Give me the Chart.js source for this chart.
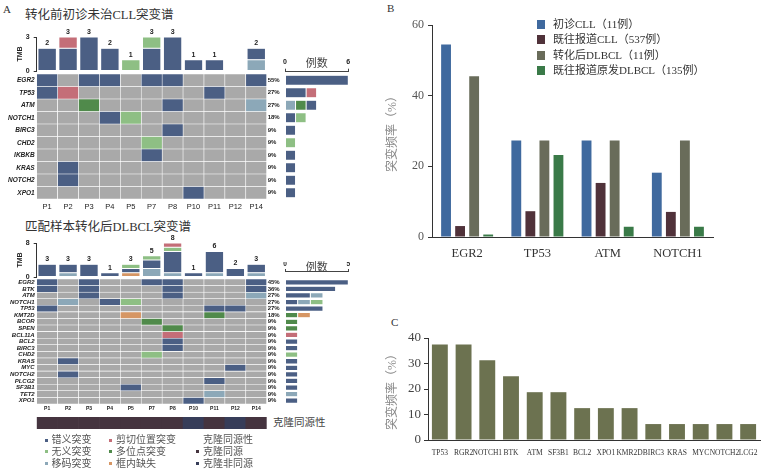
<!DOCTYPE html>
<html>
<head>
<meta charset="utf-8">
<script src="https://cdn.jsdelivr.net/npm/chart.js"></script>
<style>
body { margin: 0; background: #fff; }
#page { position: relative; width: 769px; height: 475px; overflow: hidden; font-family: "Liberation Serif", "Noto Sans CJK SC", serif; color: #333; }
canvas { position: absolute; }
.txt { position: absolute; white-space: nowrap; line-height: 1; }
.sq { position: absolute; }
</style>
</head>
<body>
<div id="page">
  <div class="txt" style="left:3px;top:4px;font-size:11px;">A</div>
  <div class="txt" style="left:25px;top:9px;font-size:12.5px;">转化前初诊未治CLL突变谱</div>
  <div class="txt" style="left:25px;top:221px;font-size:12.5px;">匹配样本转化后DLBCL突变谱</div>
  <div class="txt" style="left:273px;top:418px;font-size:10.5px;color:#444;">克隆同源性</div>
  <div class="txt" style="left:387px;top:3px;font-size:11px;">B</div>
  <div class="txt" style="left:391px;top:317px;font-size:11px;">C</div>

  <canvas id="tmbCll" width="268" height="50" style="left:0;top:26px"></canvas>
  <canvas id="heatCll" width="286" height="141" style="left:0;top:74px"></canvas>
  <canvas id="countCll" width="74" height="149" style="left:280px;top:50px"></canvas>

  <canvas id="tmbDlb" width="268" height="50" style="left:0;top:232px"></canvas>
  <canvas id="heatDlb" width="286" height="134" style="left:0;top:279px"></canvas>
  <canvas id="countDlb" width="74" height="148" style="left:280px;top:256px"></canvas>
  <canvas id="cloneDlb" width="268" height="12" style="left:0;top:417px"></canvas>

  <canvas id="chartB" width="389" height="290" style="left:380px;top:0"></canvas>
  <canvas id="chartC" width="389" height="175" style="left:380px;top:300px"></canvas>
  <div id="legendA"></div>
  <div id="legendB"></div>
</div>

<script>
// ---------- panel A data ----------
const patients = ['P1', 'P2', 'P3', 'P4', 'P5', 'P7', 'P8', 'P10', 'P11', 'P12', 'P14'];

const cllGenes = ['EGR2', 'TP53', 'ATM', 'NOTCH1', 'BIRC3', 'CHD2', 'IKBKB', 'KRAS', 'NOTCH2', 'XPO1'];
const cllPct = ['55%', '27%', '27%', '18%', '9%', '9%', '9%', '9%', '9%', '9%'];

// cells: [gene, patient]
const cllMissense = [['EGR2', 'P1'], ['EGR2', 'P3'], ['EGR2', 'P4'], ['EGR2', 'P7'], ['EGR2', 'P8'], ['EGR2', 'P14'],
  ['TP53', 'P1'], ['TP53', 'P11'], ['ATM', 'P8'], ['NOTCH1', 'P4'], ['BIRC3', 'P8'], ['IKBKB', 'P7'],
  ['KRAS', 'P2'], ['NOTCH2', 'P2'], ['XPO1', 'P10']];
const cllNonsense = [['NOTCH1', 'P5'], ['CHD2', 'P7']];
const cllFrameshift = [['ATM', 'P14']];
const cllSplice = [['TP53', 'P2']];
const cllMulti = [['ATM', 'P3']];

const cllTmbFrameshift = [0, 0, 0, 0, 0, 0, 0, 0, 0, 0, 1];
const cllTmbMissense = [2, 2, 3, 2, 0, 2, 3, 1, 1, 0, 1];
const cllTmbNonsense = [0, 0, 0, 0, 1, 1, 0, 0, 0, 0, 0];
const cllTmbSplice = [0, 1, 0, 0, 0, 0, 0, 0, 0, 0, 0];

const dlbGenes = ['EGR2', 'BTK', 'ATM', 'NOTCH1', 'TP53', 'KMT2D', 'BCOR', 'SPEN', 'BCL11A', 'BCL2', 'BIRC3',
  'CHD2', 'KRAS', 'MYC', 'NOTCH2', 'PLCG2', 'SF3B1', 'TET2', 'XPO1'];
const dlbPct = ['45%', '36%', '27%', '27%', '27%', '18%', '9%', '9%', '9%', '9%', '9%', '9%', '9%', '9%', '9%', '9%', '9%', '9%', '9%'];

const dlbMissense = [['EGR2', 'P1'], ['EGR2', 'P3'], ['EGR2', 'P7'], ['EGR2', 'P8'], ['EGR2', 'P14'],
  ['BTK', 'P1'], ['BTK', 'P3'], ['BTK', 'P8'], ['BTK', 'P14'], ['ATM', 'P3'], ['ATM', 'P8'], ['NOTCH1', 'P4'],
  ['TP53', 'P1'], ['TP53', 'P11'], ['TP53', 'P12'], ['BCL2', 'P8'], ['BIRC3', 'P8'], ['KRAS', 'P2'],
  ['MYC', 'P12'], ['NOTCH2', 'P2'], ['PLCG2', 'P11'], ['SF3B1', 'P5'], ['XPO1', 'P10']];
const dlbNonsense = [['NOTCH1', 'P5'], ['CHD2', 'P7']];
const dlbFrameshift = [['ATM', 'P14'], ['NOTCH1', 'P2'], ['TET2', 'P11']];
const dlbSplice = [['BCL11A', 'P8']];
const dlbMulti = [['KMT2D', 'P11'], ['BCOR', 'P7'], ['SPEN', 'P8']];
const dlbInframe = [['KMT2D', 'P5']];

const dlbTmbFrameshift = [0, 1, 0, 0, 0, 2, 1, 0, 1, 0, 1];
const dlbTmbInframe = [0, 0, 0, 0, 1, 0, 0, 0, 0, 0, 0];
const dlbTmbMissense = [3, 2, 3, 1, 1, 2, 5, 1, 5, 2, 2];
const dlbTmbNonsense = [0, 0, 0, 0, 1, 1, 1, 0, 0, 0, 0];
const dlbTmbSplice = [0, 0, 0, 0, 0, 0, 1, 0, 0, 0, 0];

const dlbClone = ['同源', '同源', '同源', '同源', '同源', '同源', '同源', '非同源', '同源', '非同源', '同源'];

const mutTypeKeys = ['missense', 'nonsense', 'frameshift', 'splice', 'multi', 'inframe'];
const mutTypeNames = ['错义突变', '无义突变', '移码突变', '剪切位置突变', '多位点突变', '框内缺失'];
const cloneNames = ['克隆同源', '克隆非同源'];

// ---------- panel B data ----------
const bGenes = ['EGR2', 'TP53', 'ATM', 'NOTCH1'];
const bSeriesNames = ['初诊CLL（11例）', '既往报道CLL（537例）', '转化后DLBCL（11例）', '既往报道原发DLBCL（135例）'];
const bNewCll = [54.5, 27.3, 27.3, 18.2];
const bPriorCll = [3.1, 7.3, 15.3, 7.1];
const bTransformed = [45.5, 27.3, 27.3, 27.3];
const bPriorDlbcl = [0.7, 23.2, 2.9, 2.9];

// ---------- panel C data ----------
const cGenes = ['TP53', 'RGR2', 'NOTCH1', 'BTK', 'ATM', 'SF3B1', 'BCL2', 'XPO1', 'KMR2D', 'BIRC3', 'KRAS', 'MYC', 'NOTCH2', 'LCG2'];
const cFreq = [37.5, 37.5, 31.25, 25, 18.75, 18.75, 12.5, 12.5, 12.5, 6.25, 6.25, 6.25, 6.25, 6.25];

// ---------- styles ----------
const SERIF = '"Liberation Serif", "Noto Sans CJK SC", serif';
const SANS = '"Liberation Sans", Arial, sans-serif';
const typeColors = {
  missense: '#4b5f84', nonsense: '#8ebf84', frameshift: '#8ca8b8',
  splice: '#c46e78', multi: '#508a4b', inframe: '#d69664'
};
const cloneColors = { '同源': '#45343f', '非同源': '#373d59' };
const bColors = ['#3f699e', '#50323a', '#696c5a', '#3a7a48'];
const cColor = '#6c7250';

Chart.defaults.animation = false;
Chart.defaults.font.family = SERIF;
Chart.defaults.plugins.legend.display = false;
Chart.defaults.plugins.tooltip.enabled = false;

const el = id => document.getElementById(id);
// fixed axis width / height, and no extra room kept for half tick labels
const fixW = w => s => { s.width = w; s.paddingTop = 0; s.paddingBottom = 0; };
const fixH = h => s => { s.height = h; };
const noGrid = { display: false, drawTicks: false };

// total number written above each stacked TMB bar
const stackTotals = {
  id: 'stackTotals',
  afterDatasetsDraw(chart) {
    const { ctx, scales: { x, y } } = chart;
    ctx.save();
    ctx.font = 'bold 7px ' + SANS;
    ctx.fillStyle = '#222';
    ctx.textAlign = 'center';
    ctx.textBaseline = 'bottom';
    chart.data.labels.forEach((lab, i) => {
      let total = 0;
      chart.data.datasets.forEach(ds => { total += ds.data[i] || 0; });
      if (!total) return;
      ctx.fillText(String(total), x.getPixelForValue(i), y.getPixelForValue(total) - 1.5);
    });
    ctx.restore();
  }
};

function tmbChart(id, series, order, maxVal) {
  new Chart(el(id), {
    type: 'bar',
    data: {
      labels: patients,
      datasets: order.map(t => ({ data: series[t], backgroundColor: typeColors[t] }))
    },
    options: {
      responsive: false,
      layout: { padding: { left: 12, right: 1.3, top: 11, bottom: 5 } },
      datasets: { bar: { barPercentage: 0.88, categoryPercentage: 1, borderColor: '#fff', borderWidth: 0.5, borderSkipped: false } },
      scales: {
        x: { display: false, stacked: true },
        y: {
          stacked: true, min: 0, max: maxVal,
          afterBuildTicks: s => { s.ticks = [{ value: 0 }, { value: maxVal }]; },
          afterFit: fixW(24.7),
          ticks: { font: { family: SANS, size: 7, weight: 'bold' }, color: '#222', padding: 4 },
          grid: { drawOnChartArea: false, tickLength: 3, color: '#333' },
          border: { color: '#333' },
          title: { display: true, text: 'TMB', font: { family: SANS, size: 7, weight: 'bold' }, color: '#222', padding: { top: 4, bottom: 0 } }
        }
      }
    },
    plugins: [stackTotals]
  });
}

function heatChart(id, genes, pct, cells, f) {
  const gray = genes.flatMap(g => patients.map((p, i) => ({ y: g, x: [i, i + 1] })));
  const ds = [{ data: gray, backgroundColor: '#a9a9a9', order: 1 }];
  Object.keys(cells).forEach(t => {
    ds.push({
      data: cells[t].map(([g, p]) => { const i = patients.indexOf(p); return { y: g, x: [i, i + 1] }; }),
      backgroundColor: typeColors[t], order: 0
    });
  });
  new Chart(el(id), {
    type: 'bar',
    data: { labels: genes, datasets: ds },
    options: {
      indexAxis: 'y',
      responsive: false,
      datasets: { bar: { grouped: false, barPercentage: 1, categoryPercentage: 1, borderColor: '#fff', borderWidth: 0.6, borderSkipped: false } },
      scales: {
        x: {
          type: 'linear', min: 0, max: patients.length,
          afterBuildTicks: s => { s.ticks = patients.map((p, i) => ({ value: i + 0.5 })); },
          afterFit: fixH(f.xh),
          ticks: { callback: (v, i) => patients[i], autoSkip: false, maxRotation: 0,
            font: { family: SANS, size: f.xs, weight: f.xw }, color: '#222', padding: f.xp },
          grid: noGrid, border: { display: false }
        },
        y: {
          afterFit: fixW(36.7),
          ticks: { autoSkip: false, font: { family: SANS, size: f.gs, style: 'italic', weight: 'bold', lineHeight: 1 }, color: '#222', padding: 2 },
          grid: noGrid, border: { display: false }
        },
        yPct: {
          type: 'category', labels: pct, position: 'right', offset: true,
          afterFit: fixW(19.3),
          ticks: { autoSkip: false, font: { family: SANS, size: 6, weight: 'bold', lineHeight: 1 }, color: '#222', padding: 1 },
          grid: noGrid, border: { display: false }
        }
      }
    }
  });
}

function countChart(id, genes, cells, order, maxVal, extraRows, f) {
  const ds = order.map(t => ({
    data: genes.map((g, i) => ({ y: i, x: (cells[t] || []).filter(c => c[0] === g).length })),
    backgroundColor: typeColors[t]
  }));
  new Chart(el(id), {
    type: 'bar',
    data: { datasets: ds },
    options: {
      indexAxis: 'y',
      responsive: false,
      layout: { padding: { left: 5, right: 5.7, top: f.pt, bottom: 0 } },
      datasets: { bar: { barPercentage: 0.8, categoryPercentage: 1, borderColor: '#fff', borderWidth: 0.5, borderSkipped: false } },
      scales: {
        x: {
          type: 'linear', position: 'top', stacked: true, min: 0, max: maxVal,
          afterBuildTicks: s => { s.ticks = [{ value: 0 }, { value: maxVal }]; },
          afterFit: fixH(f.xh),
          ticks: { font: { family: SANS, size: f.ts, weight: 'bold' }, color: '#222', padding: f.tp },
          grid: { drawOnChartArea: false, tickLength: f.tl, color: '#444' },
          border: { color: '#444' },
          title: { display: true, text: '例数', font: { family: SERIF, size: 11 }, color: '#444', padding: { top: f.tt, bottom: 0 } }
        },
        y: {
          type: 'linear', reverse: true, stacked: true, display: false, offset: false,
          min: -0.5 - extraRows, max: genes.length - 0.5,
          afterBuildTicks: s => { s.ticks = genes.map((g, i) => ({ value: i })); }
        }
      }
    }
  });
}

// ---------- panel A ----------
const cllCells = { frameshift: cllFrameshift, multi: cllMulti, missense: cllMissense, nonsense: cllNonsense, splice: cllSplice };
const dlbCells = { missense: dlbMissense, frameshift: dlbFrameshift, nonsense: dlbNonsense, multi: dlbMulti, inframe: dlbInframe, splice: dlbSplice };

tmbChart('tmbCll', { frameshift: cllTmbFrameshift, missense: cllTmbMissense, nonsense: cllTmbNonsense, splice: cllTmbSplice },
  ['frameshift', 'missense', 'nonsense', 'splice'], 3);
heatChart('heatCll', cllGenes, cllPct, cllCells, { xh: 16, xs: 7.5, xw: 'normal', xp: 3, gs: 6.5 });
countChart('countCll', cllGenes, cllCells, ['frameshift', 'multi', 'missense', 'nonsense', 'splice'], 6, 0.18,
  { pt: 8, xh: 13.7, ts: 7, tp: 2, tl: 3, tt: 0 });

tmbChart('tmbDlb', { frameshift: dlbTmbFrameshift, inframe: dlbTmbInframe, missense: dlbTmbMissense, nonsense: dlbTmbNonsense, splice: dlbTmbSplice },
  ['frameshift', 'inframe', 'missense', 'nonsense', 'splice'], 8);
heatChart('heatDlb', dlbGenes, dlbPct, dlbCells, { xh: 9, xs: 5, xw: 'bold', xp: 1.5, gs: 6 });
countChart('countDlb', dlbGenes, dlbCells, ['missense', 'frameshift', 'nonsense', 'multi', 'inframe', 'splice'], 5, 1.22,
  { pt: 6, xh: 9, ts: 6.5, tp: 0.5, tl: 2, tt: 0 });

new Chart(el('cloneDlb'), {
  type: 'bar',
  data: { labels: patients, datasets: [{ data: dlbClone.map(() => 1), backgroundColor: dlbClone.map(c => cloneColors[c]) }] },
  options: {
    responsive: false,
    layout: { padding: { left: 36.7, right: 1.3, top: 0, bottom: 0 } },
    datasets: { bar: { barPercentage: 1, categoryPercentage: 1 } },
    scales: { x: { display: false }, y: { display: false, min: 0, max: 1 } }
  }
});

// legend of panel A
(function () {
  let html = '';
  mutTypeKeys.forEach((t, i) => {
    const col = Math.floor(i / 3), row = i % 3;
    const cy = 440 + row * 11.8;
    const sx = [45, 109][col], tx = [51.5, 116][col];
    html += `<div class="sq" style="left:${sx}px;top:${cy - 1.5}px;width:3px;height:3px;background:${typeColors[t]}"></div>`;
    html += `<div class="txt" style="left:${tx}px;top:${cy - 5}px;font-size:10px;color:#555">${mutTypeNames[i]}</div>`;
  });
  html += `<div class="txt" style="left:203px;top:435px;font-size:10px;color:#555">克隆同源性</div>`;
  cloneNames.forEach((n, i) => {
    const cy = 440 + (i + 1) * 11.8;
    html += `<div class="sq" style="left:196px;top:${cy - 1.5}px;width:3px;height:3px;background:${cloneColors[i ? '非同源' : '同源']}"></div>`;
    html += `<div class="txt" style="left:203px;top:${cy - 5}px;font-size:10px;color:#555">${n}</div>`;
  });
  el('legendA').innerHTML = html;
})();

// ---------- panel B ----------
const bSeries = [bNewCll, bPriorCll, bTransformed, bPriorDlbcl];
new Chart(el('chartB'), {
  type: 'bar',
  data: {
    labels: bGenes,
    datasets: bSeries.map((s, k) => ({ label: bSeriesNames[k], data: s, backgroundColor: bColors[k] }))
  },
  options: {
    responsive: false,
    layout: { padding: { top: 25, right: 56, left: 0, bottom: 0 } },
    datasets: { bar: { categoryPercentage: 0.8, barPercentage: 0.7 } },
    scales: {
      x: {
        afterFit: fixH(53),
        grid: noGrid, border: { color: '#333' },
        ticks: { font: { family: SERIF, size: 12.5 }, color: '#333', padding: 9 }
      },
      y: {
        min: 0, max: 60,
        afterFit: s => { s.width = 52; },
        ticks: { stepSize: 20, font: { family: SERIF, size: 12 }, color: '#555', padding: 4 },
        grid: { drawOnChartArea: false, tickLength: 4, color: '#333' },
        border: { color: '#333' },
        title: { display: true, text: '突变频率（%）', font: { family: SERIF, size: 12 }, color: '#888', padding: { top: 6, bottom: 0 } }
      }
    }
  }
});

(function () {
  let html = '';
  bSeriesNames.forEach((n, k) => {
    const cy = 24 + k * 15.6;
    html += `<div class="sq" style="left:537px;top:${cy - 4.5}px;width:8px;height:9px;background:${bColors[k]}"></div>`;
    html += `<div class="txt" style="left:553px;top:${cy - 5.5}px;font-size:11px;color:#333">${n}</div>`;
  });
  el('legendB').innerHTML = html;
})();

// ---------- panel C ----------
new Chart(el('chartC'), {
  type: 'bar',
  data: { labels: cGenes, datasets: [{ data: cFreq, backgroundColor: cColor }] },
  options: {
    responsive: false,
    layout: { padding: { top: 38, right: 9, left: 0, bottom: 0 } },
    datasets: { bar: { categoryPercentage: 1, barPercentage: 0.67 } },
    scales: {
      x: {
        afterFit: fixH(35),
        grid: noGrid, border: { color: '#333' },
        ticks: { autoSkip: false, maxRotation: 0, minRotation: 0, font: { family: SERIF, size: 7.5 }, color: '#333', padding: 9 }
      },
      y: {
        min: 0, max: 40,
        afterFit: s => { s.width = 48; },
        ticks: { stepSize: 10, font: { family: SERIF, size: 13 }, color: '#444', padding: 3 },
        grid: { drawOnChartArea: false, tickLength: 4, color: '#333' },
        border: { color: '#333' },
        title: { display: true, text: '突变频率（%）', font: { family: SERIF, size: 12 }, color: '#888', padding: { top: 6, bottom: 0 } }
      }
    }
  }
});
</script>
</body>
</html>
